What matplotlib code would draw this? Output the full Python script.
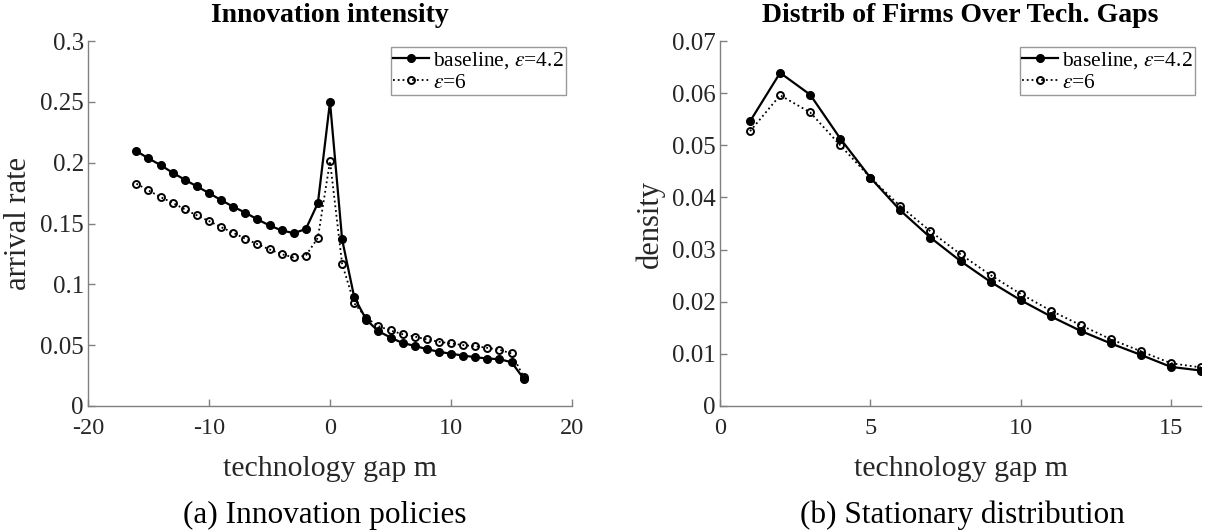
import numpy as np
import matplotlib
matplotlib.use("Agg")
import matplotlib.pyplot as plt

# Data
gap_a = list(range(-16, 17))
rate_base = [0.2095, 0.2035, 0.198, 0.1917, 0.186, 0.1805, 0.175, 0.1692, 0.1638,
             0.1589, 0.1534, 0.1484, 0.1443, 0.1421, 0.1454, 0.1668, 0.250,
             0.137, 0.0895, 0.0709, 0.0615, 0.0563, 0.0517, 0.0495, 0.0467,
             0.0446, 0.0429, 0.0415, 0.0401, 0.039, 0.0385, 0.036, 0.0226]
rate_eps6 = [0.1827, 0.1772, 0.1717, 0.167, 0.1616, 0.1567, 0.152, 0.147, 0.1424,
             0.1375, 0.133, 0.1287, 0.1248, 0.1221, 0.1235, 0.1383, 0.2013,
             0.1169, 0.0845, 0.0725, 0.0656, 0.0621, 0.059, 0.0571, 0.0547,
             0.0528, 0.0514, 0.05, 0.0492, 0.0478, 0.0462, 0.0432, 0.024]

gap_b = list(range(1, 17))
dens_base = [0.0546, 0.0639, 0.0597, 0.0513, 0.0438, 0.0375, 0.0323, 0.0278,
             0.0238, 0.0203, 0.0172, 0.0144, 0.012, 0.0098, 0.0075, 0.0068]
dens_eps6 = [0.0527, 0.0596, 0.0563, 0.050, 0.0438, 0.0383, 0.0335, 0.0291,
             0.0251, 0.0215, 0.0183, 0.0155, 0.0128, 0.0105, 0.0082, 0.0074]

labels = ["baseline, $\\epsilon$=4.2", "$\\epsilon$=6"]

plt.rcParams['font.family'] = ['Liberation Serif', 'DejaVu Serif']
plt.rcParams['mathtext.fontset'] = 'stix'
plt.rcParams['axes.unicode_minus'] = False

fig = plt.figure(figsize=(12.06, 5.31), dpi=100)
ax1 = fig.add_axes([88 / 1206, 125 / 531, 484 / 1206, 365 / 531])
ax2 = fig.add_axes([720 / 1206, 125 / 531, 481 / 1206, 365 / 531])

axis_col = '#808080'
text_col = '#262626'


def style(ax):
    for s in ['top', 'right']:
        ax.spines[s].set_visible(False)
    for s in ['left', 'bottom']:
        ax.spines[s].set_color(axis_col)
        ax.spines[s].set_linewidth(1.0)
    ax.tick_params(direction='in', colors=axis_col, labelcolor=text_col,
                   labelsize=18, length=5, width=1.0)
    ax.tick_params(axis='x', pad=9, labelsize=17.5)
    ax.tick_params(axis='y', pad=3)


def draw(ax, x, y1, y2):
    ax.plot(x, y1, '-', color='black', lw=1.6, marker='o', ms=5.5,
            mfc='black', mec='black', label=labels[0])
    ax.plot(x, y2, ':', color='black', lw=1.3, marker='o', ms=5,
            mfc='none', mec='black', mew=1.4, label=labels[1])
    leg = ax.legend(loc='upper right', fontsize=15.5, frameon=True, fancybox=False,
                    handlelength=1.7, handletextpad=0.15, borderpad=0.1,
                    labelspacing=0.1, borderaxespad=0.3)
    leg.get_frame().set_edgecolor(axis_col)
    leg.get_frame().set_linewidth(1.0)


draw(ax1, gap_a, rate_base, rate_eps6)
style(ax1)
ax1.set_xlim(-20, 20)
ax1.set_ylim(0, 0.3)
ax1.set_xticks([-20, -10, 0, 10, 20])
ax1.set_yticks([0, 0.05, 0.1, 0.15, 0.2, 0.25, 0.3])
ax1.set_yticklabels(['0', '0.05', '0.1', '0.15', '0.2', '0.25', '0.3'])
ax1.set_title('Innovation intensity', fontsize=20, fontweight='bold', pad=14)
ax1.set_xlabel('technology gap m', fontsize=21.5, color=text_col, labelpad=12)
ax1.set_ylabel('arrival rate', fontsize=22, color=text_col, labelpad=5)

draw(ax2, gap_b, dens_base, dens_eps6)
style(ax2)
ax2.set_xlim(0, 16)
ax2.set_ylim(0, 0.07)
ax2.set_xticks([0, 5, 10, 15])
ax2.set_yticks(np.arange(0, 0.0701, 0.01))
ax2.set_yticklabels(['0', '0.01', '0.02', '0.03', '0.04', '0.05', '0.06', '0.07'])
ax2.set_title('Distrib of Firms Over Tech. Gaps', fontsize=20, fontweight='bold', pad=14)
ax2.set_xlabel('technology gap m', fontsize=21.5, color=text_col, labelpad=12)
ax2.set_ylabel('density', fontsize=22, color=text_col, labelpad=5)

fig.text(325 / 1206, 1 - 515 / 531, '(a) Innovation policies', fontsize=22.5,
         ha='center', va='center')
fig.text(962 / 1206, 1 - 515 / 531, '(b) Stationary distribution', fontsize=22.5,
         ha='center', va='center')

fig.savefig('out.png', dpi=100)
